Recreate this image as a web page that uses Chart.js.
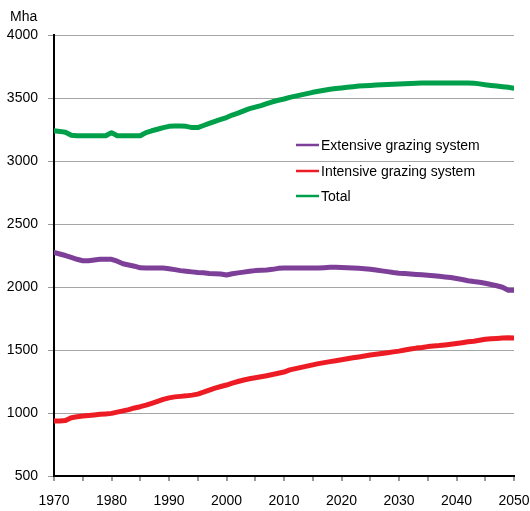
<!DOCTYPE html>
<html><head><meta charset="utf-8">
<script src="https://cdn.jsdelivr.net/npm/chart.js@4"></script>
<style>html,body{margin:0;padding:0;background:#fff}#wrap{width:530px;height:511px}</style>
</head><body><div id="wrap"><canvas id="c" width="530" height="511"></canvas></div>
<script>
const years = [];
for (let y = 1970; y <= 2050; y++) years.push(y);
const seriesNames = ["Extensive grazing system", "Intensive grazing system", "Total"];
const extensive = [2275,2262,2250,2235,2220,2208,2208,2215,2220,2220,2220,2205,2185,2175,2165,2152,2150,2150,2150,2150,
2145,2138,2130,2125,2120,2115,2113,2108,2105,2103,2095,2105,2112,2118,2125,2130,2132,2135,2140,2148,
2150,2150,2150,2150,2150,2150,2150,2153,2156,2156,2155,2152,2150,2148,2145,2140,2135,2128,2122,2115,
2110,2107,2104,2100,2097,2093,2090,2085,2080,2075,2067,2060,2050,2043,2038,2030,2020,2010,1998,1975,1975];
const intensive = [937,937,940,962,970,976,980,985,990,993,997,1007,1017,1027,1040,1050,1062,1077,1092,1108,
1120,1128,1132,1136,1142,1150,1165,1182,1198,1210,1222,1237,1250,1262,1272,1280,1288,1296,1305,1315,
1325,1342,1352,1362,1372,1382,1392,1400,1408,1415,1422,1430,1438,1445,1452,1460,1466,1472,1478,1485,
1491,1500,1508,1515,1520,1527,1532,1535,1540,1546,1552,1558,1565,1570,1578,1585,1590,1592,1595,1597,1595];
const total = [3240,3235,3228,3205,3200,3200,3200,3200,3200,3200,3225,3200,3200,3200,3200,3200,3225,3240,3252,3265,
3275,3277,3277,3275,3265,3265,3282,3298,3315,3330,3345,3365,3380,3398,3415,3428,3440,3455,3470,3482,
3492,3505,3515,3525,3535,3545,3553,3562,3570,3575,3580,3585,3590,3595,3598,3600,3603,3606,3608,3610,
3612,3614,3616,3618,3619,3620,3620,3620,3620,3620,3620,3620,3620,3618,3612,3605,3600,3595,3590,3585,3578];
const colors = ["#7d3f98", "#ed1c24", "#00a04b"];
const unitLabel = "Mha";

const FONT = "'Liberation Sans', Arial, sans-serif";
const toPts = arr => arr.map((v, i) => ({x: years[i], y: v}));

const legendPlugin = {
  id: 'customLegend',
  afterDraw(chart) {
    const ctx = chart.ctx;
    ctx.save();
    ctx.font = "14px " + FONT;
    ctx.textBaseline = "middle";
    const rows = [145, 171, 196];
    chart.data.datasets.forEach((ds, i) => {
      ctx.strokeStyle = ds.borderColor;
      ctx.lineWidth = 2.5;
      ctx.beginPath();
      ctx.moveTo(296, rows[i]);
      ctx.lineTo(319, rows[i]);
      ctx.stroke();
      ctx.fillStyle = "#000";
      ctx.fillText(ds.label, 321, rows[i] + 1);
    });
    ctx.textBaseline = "alphabetic";
    ctx.fillText(unitLabel, 10, 21);
    ctx.restore();
  }
};

new Chart(document.getElementById('c'), {
  type: 'line',
  data: {
    datasets: seriesNames.map((n, i) => ({
      label: n,
      data: toPts([extensive, intensive, total][i]),
      borderColor: colors[i],
      backgroundColor: colors[i],
      borderWidth: 5,
      pointRadius: 0,
      tension: 0,
      borderCapStyle: 'round',
      borderJoinStyle: 'round'
    }))
  },
  options: {
    responsive: false,
    animation: false,
    layout: {padding: {left: 0, right: 16, top: 35, bottom: 0}},
    plugins: {legend: {display: false}, tooltip: {enabled: false}},
    scales: {
      x: {
        type: 'linear', min: 1970, max: 2050,
        afterFit(s) { s.height = 35; s.paddingRight = 0; s.paddingLeft = 0; },
        border: {display: true, color: '#000', width: 2},
        grid: {drawOnChartArea: false, drawTicks: true, tickLength: 5, color: '#999', lineWidth: 2},
        ticks: {
          stepSize: 5, autoSkip: false, maxRotation: 0, padding: 12,
          color: '#000', font: {size: 14, family: FONT},
          callback: v => (v % 10 === 0 ? String(v) : '')
        }
      },
      y: {
        min: 500, max: 4000,
        afterFit(s) { s.width = 54; s.paddingTop = 0; s.paddingBottom = 0; },
        border: {display: true, color: '#000', width: 2},
        grid: {color: '#a6a6a6', lineWidth: 1, drawTicks: true, tickLength: 6,
               tickColor: '#999'},
        ticks: {stepSize: 500, padding: 10, color: '#000', font: {size: 14, family: FONT},
                callback: v => String(v)}
      }
    }
  },
  plugins: [legendPlugin]
});
</script></body></html>
